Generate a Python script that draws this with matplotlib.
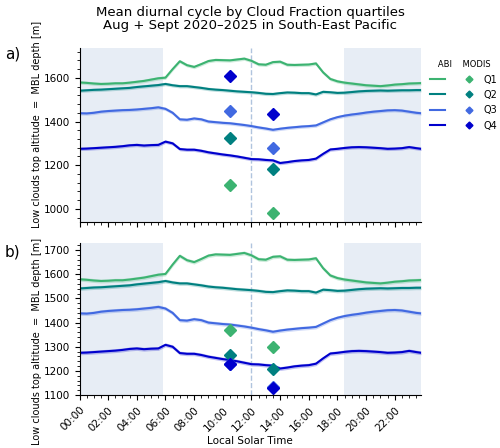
import numpy as np
import matplotlib
matplotlib.use("Agg")
import matplotlib.pyplot as plt
from matplotlib.lines import Line2D
from matplotlib.legend_handler import HandlerTuple
from matplotlib.ticker import AutoMinorLocator, MultipleLocator, FuncFormatter

# Local solar time (hours), ABI mean diurnal cycle per cloud-fraction quartile
hours = [0, 0.5, 1, 1.5, 2, 2.5, 3, 3.5, 4, 4.5, 5, 5.5, 6, 6.5, 7, 7.5, 8, 8.5,
         9, 9.5, 10, 10.5, 11, 11.5, 12, 12.5, 13, 13.5, 14, 14.5, 15, 15.5, 16,
         16.5, 17, 17.5, 18, 18.5, 19, 19.5, 20, 20.5, 21, 21.5, 22, 22.5, 23,
         23.5, 23.83]

abi_q1 = [1579, 1577, 1574, 1572, 1573, 1575, 1575, 1578, 1582, 1586, 1592, 1598,
          1601, 1640, 1676, 1658, 1650, 1663, 1677, 1682, 1681, 1680, 1684, 1688,
          1678, 1662, 1660, 1672, 1674, 1660, 1659, 1660, 1661, 1666, 1625, 1595,
          1584, 1578, 1574, 1570, 1566, 1564, 1562, 1565, 1569, 1571, 1574, 1575,
          1576]
abi_q2 = [1541, 1543, 1545, 1546, 1548, 1550, 1552, 1554, 1558, 1561, 1564, 1567,
          1572, 1566, 1562, 1562, 1558, 1554, 1549, 1546, 1544, 1541, 1538, 1536,
          1534, 1531, 1527, 1526, 1530, 1533, 1532, 1530, 1530, 1524, 1536, 1534,
          1531, 1532, 1535, 1538, 1540, 1541, 1542, 1541, 1542, 1543, 1543, 1544,
          1544]
abi_q3 = [1438, 1437, 1440, 1445, 1448, 1450, 1452, 1453, 1455, 1458, 1461, 1465,
          1458, 1440, 1410, 1408, 1414, 1410, 1400, 1397, 1394, 1392, 1388, 1384,
          1379, 1373, 1368, 1362, 1367, 1371, 1374, 1377, 1379, 1382, 1396, 1410,
          1420, 1427, 1432, 1436, 1441, 1445, 1448, 1451, 1452, 1450, 1445, 1440,
          1438]
abi_q4 = [1275, 1276, 1278, 1280, 1282, 1284, 1287, 1291, 1293, 1290, 1292, 1293,
          1308, 1300, 1274, 1271, 1271, 1266, 1259, 1254, 1249, 1245, 1240, 1234,
          1228, 1227, 1224, 1222, 1210, 1214, 1219, 1222, 1224, 1230, 1252, 1272,
          1275, 1279, 1282, 1283, 1282, 1280, 1278, 1275, 1276, 1278, 1283, 1278,
          1275]
abi_err = 8

# MODIS overpasses (Terra 10:30, Aqua 13:30)
modis_hours = [10.5, 13.5]
modis_a = {"Q1": [1109, 979], "Q2": [1324, 1183], "Q3": [1447, 1277], "Q4": [1609, 1434]}
modis_b = {"Q1": [1370, 1301], "Q2": [1264, 1209], "Q3": [1230, 1132], "Q4": [1228, 1130]}

quartiles = ["Q1", "Q2", "Q3", "Q4"]
colors = ["#3cb371", "#008080", "#4169e1", "#0000cd"]
abi = [abi_q1, abi_q2, abi_q3, abi_q4]

night1 = (0, 5.8)
night2 = (18.45, 23.83)

fig = plt.figure(figsize=(5, 4.48), dpi=100)
ax1 = fig.add_axes([0.159, 0.504, 0.683, 0.389])
ax2 = fig.add_axes([0.159, 0.118, 0.683, 0.339], sharex=ax1)

for ax, modis in [(ax1, modis_a), (ax2, modis_b)]:
    ax.axvspan(*night1, color="lightsteelblue", alpha=0.3, lw=0)
    ax.axvspan(*night2, color="lightsteelblue", alpha=0.3, lw=0)
    ax.axvline(12, color="lightsteelblue", ls="--", lw=1)
    for q, c, y in zip(quartiles, colors, abi):
        y = np.array(y)
        ax.fill_between(hours, y - abi_err, y + abi_err, color=c, alpha=0.25, lw=0)
        ax.plot(hours, y, color=c, lw=1.5)
    for q, c in zip(quartiles, colors):
        ax.plot(modis_hours, modis[q], ls="none", marker="D", ms=6.5, color=c)
    ax.spines["top"].set_visible(False)
    ax.spines["right"].set_visible(False)
    ax.set_ylabel("Low clouds top altitude  =  MBL depth [m]", fontsize=7)
    ax.yaxis.set_minor_locator(AutoMinorLocator(5))
    ax.tick_params(labelsize=7.5)
    ax.tick_params(which="minor", length=2)

ax1.yaxis.set_label_coords(-0.11, 0.563)
ax2.yaxis.set_label_coords(-0.11, 0.356)

ax1.set_xlim(0, 23.83)
ax1.set_ylim(939, 1737)
ax1.yaxis.set_major_locator(MultipleLocator(200))
ax2.set_ylim(1100, 1728)
ax2.yaxis.set_major_locator(MultipleLocator(100))
ax2.xaxis.set_major_locator(MultipleLocator(2))
ax2.xaxis.set_minor_locator(MultipleLocator(0.5))
ax2.xaxis.set_major_formatter(FuncFormatter(lambda v, p: "%02d:00" % int(round(v))))
plt.setp(ax1.get_xticklabels(), visible=False)
plt.setp(ax2.get_xticklabels(), rotation=45, ha="right", rotation_mode="anchor")
ax2.set_xlabel("Local Solar Time", fontsize=7.5, labelpad=2)

fig.text(0.5, 0.987, "Mean diurnal cycle by Cloud Fraction quartiles\n"
         "Aug + Sept 2020\u20132025 in South-East Pacific",
         ha="center", va="top", fontsize=9.5, linespacing=1.05)
fig.text(0.01, 0.879, "a)", fontsize=11, va="center")
fig.text(0.01, 0.4375, "b)", fontsize=11, va="center")

handles = []
for c in colors:
    handles.append((Line2D([], [], color=c, lw=1.5),
                    Line2D([], [], ls="none", marker="D", ms=3.5, color=c)))
leg = ax1.legend(handles, quartiles, handler_map={tuple: HandlerTuple(ndivide=None, pad=1.7)},
                 title="   ABI    MODIS", title_fontsize=6, fontsize=7, frameon=False,
                 handlelength=4.8, handletextpad=0.7, labelspacing=0.55,
                 loc="upper left", bbox_to_anchor=(1.0, 0.98), alignment="left")

fig.savefig("out.png", dpi=100)
